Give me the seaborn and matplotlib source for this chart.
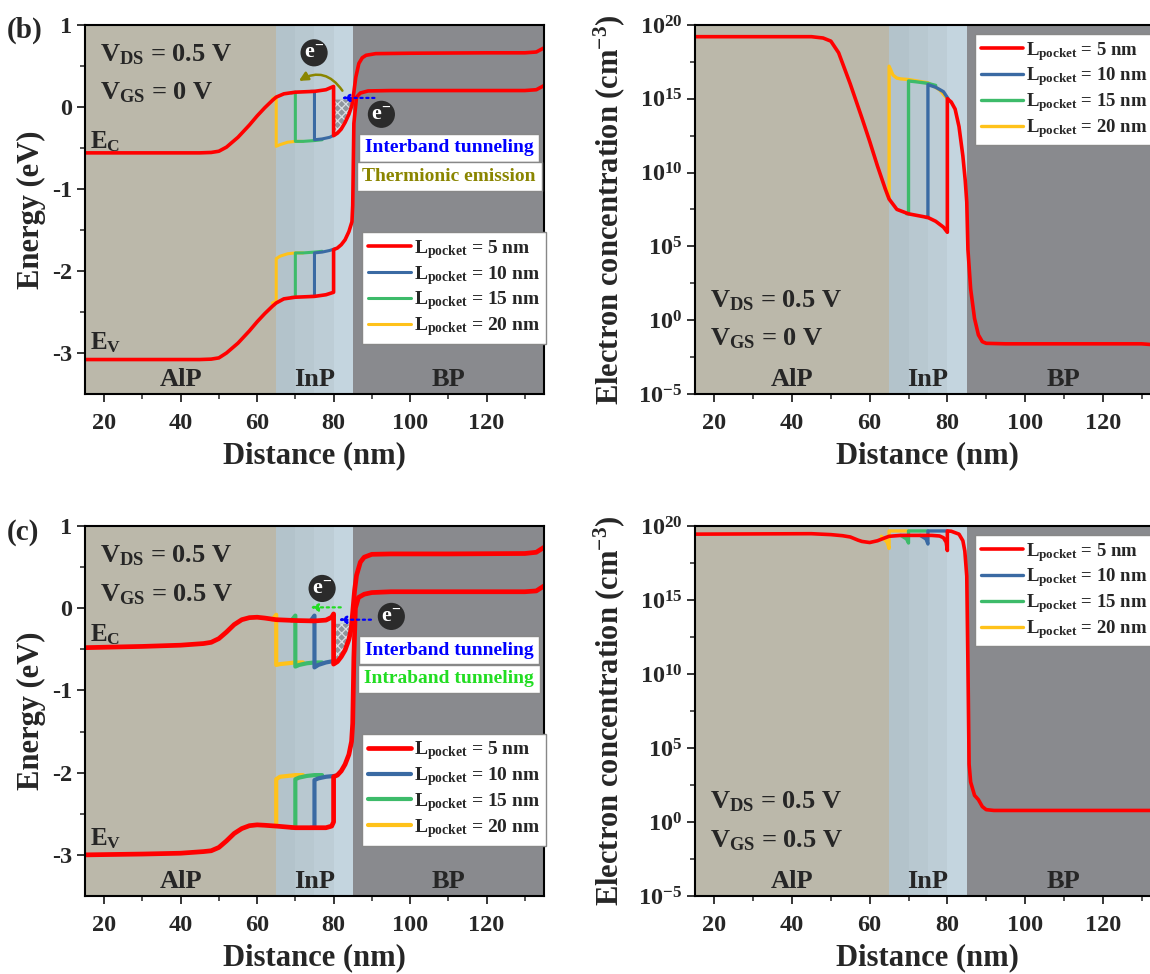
import matplotlib
matplotlib.use("Agg")
import matplotlib.pyplot as plt
import seaborn as sns

sns.set_style("ticks")
plt.rcParams["font.family"] = ["Liberation Serif", "DejaVu Serif"]
plt.rcParams["font.weight"] = "bold"
plt.rcParams["axes.labelweight"] = "bold"
plt.rcParams["mathtext.fontset"] = "custom"
plt.rcParams["mathtext.rm"] = "Liberation Serif:bold"
plt.rcParams["mathtext.it"] = "Liberation Serif:bold:italic"
plt.rcParams["mathtext.bf"] = "Liberation Serif:bold"
plt.rcParams["mathtext.default"] = "rm"
plt.rcParams["axes.unicode_minus"] = False
plt.rcParams["hatch.linewidth"] = 0.9

# ---- data -------------------------------------------------------------
pockets = ["5", "10", "15", "20"]
colors = {"5": "#ff0000", "10": "#3a6aa3", "15": "#3dbb6a", "20": "#ffc21a"}

region_edges = [15, 65, 70, 75, 80, 85, 135]
region_colors = ["#bbb8aa", "#b3c3cb", "#b8c8d0", "#bdcdd6", "#c4d5df", "#898a8e"]
region_names = ["AlP", "InP", "BP"]
region_centers = [40, 75, 110]

# (b) band diagram, VGS = 0 V
ec_b_x = [15, 30, 45, 48, 50, 52, 55, 58, 60, 62, 64, 65, 67, 70, 75, 78, 80, 80, 81, 82, 83, 84,
          84.8, 85.3, 85.8, 86.6, 87.5, 88.5, 91, 100, 120, 130, 133, 135]
ec_b_y = [-0.56, -0.56, -0.56, -0.555, -0.54, -0.49, -0.37, -0.22, -0.11, -0.01, 0.08, 0.12, 0.16,
          0.18, 0.19, 0.21, 0.25, -0.35, -0.32, -0.27, -0.19, -0.09, 0.02, 0.18, 0.36, 0.53, 0.60,
          0.63, 0.65, 0.655, 0.66, 0.66, 0.67, 0.72]
ev_b_x = [15, 30, 45, 48, 50, 52, 55, 58, 60, 62, 64, 65, 67, 70, 75, 78, 80, 80, 81, 82, 83, 84,
          84.8, 85, 85.3, 86, 87, 89, 95, 110, 130, 133, 135]
ev_b_y = [-3.08, -3.08, -3.08, -3.075, -3.06, -3.0, -2.88, -2.73, -2.62, -2.52, -2.43, -2.39, -2.34,
          -2.32, -2.31, -2.29, -2.26, -1.74, -1.72, -1.68, -1.62, -1.52, -1.40, -1.2, -0.2, 0.12,
          0.17, 0.195, 0.2, 0.2, 0.2, 0.21, 0.26]
ec_b_pocket_x = {"10": [74, 75, 75, 77, 79, 80.3],
                 "15": [69, 70, 70, 72, 75, 77],
                 "20": [64, 65, 65, 66, 68, 70, 72]}
ec_b_pocket_y = {"10": [0.19, 0.19, -0.40, -0.39, -0.37, -0.34],
                 "15": [0.17, 0.18, -0.42, -0.42, -0.41, -0.40],
                 "20": [0.10, 0.12, -0.48, -0.46, -0.43, -0.42, -0.42]}
ev_b_pocket_x = {"10": [74, 75, 75, 77, 79, 80.3],
                 "15": [69, 70, 70, 72, 75, 77],
                 "20": [64, 65, 65, 66, 68, 70, 72]}
ev_b_pocket_y = {"10": [-2.31, -2.31, -1.78, -1.77, -1.75, -1.73],
                 "15": [-2.32, -2.32, -1.78, -1.78, -1.77, -1.76],
                 "20": [-2.39, -2.37, -1.85, -1.82, -1.79, -1.78, -1.78]}

# (c) band diagram, VGS = 0.5 V
ec_c_x = [15, 30, 40, 46, 48, 50, 52, 54, 56, 58, 60, 62, 65, 70, 75, 78, 79.5, 80, 80, 81, 82, 83,
          84, 84.6, 85, 85.5, 86, 87, 88, 90, 95, 110, 130, 133, 135]
ec_c_y = [-0.48, -0.465, -0.45, -0.43, -0.415, -0.37, -0.29, -0.2, -0.14, -0.115, -0.11, -0.12,
          -0.14, -0.15, -0.155, -0.145, -0.11, -0.07, -0.68, -0.65, -0.59, -0.51, -0.38, -0.25,
          -0.05, 0.22, 0.4, 0.56, 0.62, 0.655, 0.66, 0.66, 0.665, 0.68, 0.74]
ev_c_x = [15, 30, 40, 46, 48, 50, 52, 54, 56, 58, 60, 62, 65, 70, 75, 78, 79.5, 80, 80, 81, 82, 83,
          84, 84.7, 85, 85.3, 85.7, 86.5, 88, 90, 95, 110, 130, 133, 135]
ev_c_y = [-3.0, -2.99, -2.98, -2.96, -2.95, -2.91, -2.83, -2.74, -2.68, -2.645, -2.635, -2.64,
          -2.65, -2.67, -2.67, -2.67, -2.65, -2.6, -2.05, -2.03, -1.98, -1.9, -1.78, -1.62, -1.4,
          -0.6, 0.0, 0.13, 0.17, 0.19, 0.2, 0.2, 0.2, 0.21, 0.27]
ec_c_pocket_x = {"10": [74, 75, 75, 76, 78, 80.3],
                 "15": [69, 70, 70, 71, 73, 75, 77],
                 "20": [64, 65, 65, 66, 68, 70, 72]}
ec_c_pocket_y = {"10": [-0.155, -0.09, -0.72, -0.69, -0.66, -0.64],
                 "15": [-0.15, -0.09, -0.71, -0.69, -0.67, -0.66, -0.66],
                 "20": [-0.14, -0.08, -0.69, -0.68, -0.67, -0.66, -0.66]}
ev_c_pocket_x = {"10": [74, 75, 75, 76, 78, 80.3],
                 "15": [69, 70, 70, 71, 73, 75, 77],
                 "20": [64, 65, 65, 66, 68, 70, 72]}
ev_c_pocket_y = {"10": [-2.67, -2.67, -2.09, -2.07, -2.05, -2.04],
                 "15": [-2.67, -2.67, -2.08, -2.06, -2.04, -2.03, -2.03],
                 "20": [-2.65, -2.65, -2.08, -2.05, -2.04, -2.03, -2.03]}

# electron concentration (cm^-3), VGS = 0 V
n_b_x = [15, 30, 45, 48, 50, 52, 55, 58, 60, 62, 64, 65, 67, 70, 75, 77, 79, 80, 80, 81, 82, 83,
         84, 84.6, 85, 85.3, 86, 87, 88, 89, 90, 95, 110, 130, 135]
n_b_y = [1.6e19, 1.6e19, 1.6e19, 1.3e19, 8e18, 1.3e18, 1e16, 5e13, 1.3e12, 2.8e10, 8e8, 1.6e8,
         3.2e7, 1.6e7, 9e6, 5e6, 2e6, 9e5, 1e15, 6e14, 2e14, 1.3e13, 1.3e11, 3e9, 1e8, 6e4, 130,
         1.3, 0.1, 0.035, 0.027, 0.025, 0.025, 0.025, 0.02]
n_b_pocket_x = {"10": [74.5, 75, 75, 77, 79, 80.2],
                "15": [69.5, 70, 70, 72, 75, 77],
                "20": [64.5, 65, 65, 66, 67, 68, 70, 75, 78, 80]}
n_b_pocket_y = {"10": [9e6, 9e6, 9e15, 6e15, 3e15, 1e15],
                "15": [1.6e7, 1.6e7, 1.6e16, 1.4e16, 1.1e16, 8e15],
                "20": [3e8, 2e8, 1.6e17, 4e16, 2.5e16, 2.2e16, 2e16, 1.2e16, 4e15, 1e15]}

# electron concentration (cm^-3), VGS = 0.5 V
n_c_x = [15, 30, 45, 50, 53, 55, 57, 58, 60, 62, 64, 65, 68, 72, 76, 78, 79, 79.7, 80, 80, 81, 82,
         83, 84, 84.5, 85, 85.3, 85.6, 86, 87, 88, 89, 90, 92, 110, 135]
n_c_y = [2.8e19, 2.9e19, 3e19, 2.6e19, 2.2e19, 1.8e19, 1.1e19, 9e18, 7.6e18, 1e19, 1.6e19, 2e19,
         2.3e19, 2.3e19, 2.3e19, 2.1e19, 1.6e19, 8e18, 2.2e18, 4.6e19, 4.4e19, 3.5e19, 2.8e19,
         1e19, 2e18, 4e16, 4e10, 8e3, 500, 63, 32, 11, 6.8, 6, 6, 6]
n_c_pocket_x = {"10": [73, 74.5, 75, 75, 77, 80],
                "15": [68, 69.5, 70, 70, 72, 75],
                "20": [63, 64.5, 65, 65, 66, 68, 70]}
n_c_pocket_y = {"10": [2.3e19, 1.3e19, 6e18, 4.6e19, 4.6e19, 4.6e19],
                "15": [2.3e19, 1.3e19, 7e18, 4.6e19, 4.6e19, 4.6e19],
                "20": [2e19, 8e18, 3e18, 4.6e19, 4.6e19, 4.6e19, 4.6e19]}

energy_ticks = [-3, -2, -1, 0, 1]
energy_minor = [-2.5, -1.5, -0.5, 0.5]
dist_ticks = [20, 40, 60, 80, 100, 120]
dist_minor = [30, 50, 70, 90, 110, 130]
conc_ticks = [1e-5, 1, 1e5, 1e10, 1e15, 1e20]
conc_labels = [r"$10^{-5}$", r"$10^{0}$", r"$10^{5}$", r"$10^{10}$", r"$10^{15}$", r"$10^{20}$"]
conc_minor = [3.16e-3, 316, 3.16e7, 3.16e12, 3.16e17]
tunnel_level = {"b": 0.09, "c": -0.19}


# ---- helpers ----------------------------------------------------------
def draw(ax, x, y, color, lw):
    sns.lineplot(x=x, y=y, ax=ax, color=color, lw=lw, sort=False, estimator=None, legend=False)
    return ax.lines[-1]


def base_axes(ax, log=False):
    for i in range(len(region_colors)):
        ax.axvspan(region_edges[i], region_edges[i + 1], color=region_colors[i], lw=0, zorder=0)
    ax.set_xlim(15, 135)
    ax.set_xticks(dist_ticks)
    ax.set_xticks(dist_minor, minor=True)
    if log:
        ax.set_yscale("log")
        ax.set_ylim(1e-5, 1e20)
        ax.set_yticks(conc_ticks)
        ax.set_yticklabels(conc_labels)
        ax.set_yticks(conc_minor, minor=True)
        ax.set_yticklabels([], minor=True)
        ax.set_ylabel(r"Electron concentration (cm$^{-3}$)", fontsize=22)
        ax.yaxis.set_label_coords(-0.145, 0.5)
        ytxt = 9e-5
    else:
        ax.set_ylim(-3.5, 1)
        ax.set_yticks(energy_ticks)
        ax.set_yticks(energy_minor, minor=True)
        ax.set_ylabel("Energy (eV)", fontsize=22)
        ax.yaxis.set_label_coords(-0.085, 0.5)
        ytxt = -3.32
    ax.set_xlabel("Distance (nm)", fontsize=22, labelpad=5)
    ax.tick_params(axis="both", which="major", direction="out", length=6, width=1.3,
                   labelsize=17.5, pad=3)
    ax.tick_params(axis="x", which="major", pad=8)
    ax.tick_params(axis="both", which="minor", direction="out", length=3.5, width=1.1)
    for s in ax.spines.values():
        s.set_linewidth(1.5)
        s.set_color("black")
    for name, xc in zip(region_names, region_centers):
        ax.text(xc, ytxt, name, ha="center", va="center", fontsize=19, zorder=5)


def pocket_legend(ax, handles, anchor, size):
    labels = [r"L$_{pocket}$ = %s nm" % p for p in pockets]
    leg = ax.legend(handles=handles, labels=labels, loc="upper left", bbox_to_anchor=anchor,
                    fontsize=size, frameon=True, fancybox=False, framealpha=1,
                    edgecolor="#888888", handlelength=2.25, handletextpad=0.12,
                    labelspacing=0.15, borderpad=0.3, borderaxespad=0)
    leg.get_frame().set_linewidth(1.0)
    leg.set_zorder(10)


def electron(ax, x, y):
    ax.text(x, y, r"e$^{-}$", color="white", ha="center", va="center", fontsize=16, zorder=12,
            bbox=dict(boxstyle="circle,pad=0.16", fc="#2b2b2b", ec="none"))


def tunnel_box(ax, x, y, label, color):
    ax.text(x, y, label, color=color, ha="center", va="center", fontsize=14, zorder=11,
            bbox=dict(boxstyle="square,pad=0.3", fc="white", ec="#888888", lw=1))


def band_panel(ax, ec_x, ec_y, ev_x, ev_y, ec_px, ec_py, ev_px, ev_py, lw_red, lw_col, key):
    base_axes(ax)
    handles = {}
    for p in ["20", "15", "10"]:
        handles[p] = draw(ax, ec_px[p], ec_py[p], colors[p], lw_col)
        draw(ax, ev_px[p], ev_py[p], colors[p], lw_col)
    # hatched tunneling window between the pocket conduction band and the source level
    i0 = ec_x.index(80) + 1
    seg = [(x, y) for x, y in zip(ec_x[i0:], ec_y[i0:]) if x <= 85 and y <= tunnel_level[key]]
    ax.fill_between([s[0] for s in seg], [s[1] for s in seg], tunnel_level[key],
                    facecolor="#8f969d", hatch="xxxx", edgecolor="#d9dee2", lw=0, zorder=2)
    handles["5"] = draw(ax, ec_x, ec_y, colors["5"], lw_red)
    draw(ax, ev_x, ev_y, colors["5"], lw_red)
    pocket_legend(ax, [handles[p] for p in pockets], (0.603, 0.439), 14)


def conc_panel(ax, n_x, n_y, n_px, n_py):
    base_axes(ax, log=True)
    handles = {}
    for p in ["20", "15", "10"]:
        handles[p] = draw(ax, n_px[p], n_py[p], colors[p], 2.4)
    handles["5"] = draw(ax, n_x, n_y, colors["5"], 2.6)
    pocket_legend(ax, [handles[p] for p in pockets], (0.602, 0.975), 13.5)


# ---- figure -----------------------------------------------------------
fig = plt.figure(figsize=(11.5, 9.74), dpi=100)
ax_b = fig.add_axes([0.0739, 0.5955, 0.3991, 0.3789])
ax_bn = fig.add_axes([0.6043, 0.5955, 0.4052, 0.3789])
ax_c = fig.add_axes([0.0739, 0.0801, 0.3991, 0.3799])
ax_cn = fig.add_axes([0.6043, 0.0801, 0.4052, 0.3799])

# panel (b)
band_panel(ax_b, ec_b_x, ec_b_y, ev_b_x, ev_b_y, ec_b_pocket_x, ec_b_pocket_y,
           ev_b_pocket_x, ev_b_pocket_y, 2.6, 2.2, "b")
ax_b.text(18.8, 0.64, r"V$_{DS}$ = 0.5 V", fontsize=19, va="center")
ax_b.text(18.8, 0.17, r"V$_{GS}$ = 0 V", fontsize=19, va="center")
ax_b.text(16.3, -0.42, r"E$_{C}$", fontsize=18, va="center")
ax_b.text(16.3, -2.88, r"E$_{V}$", fontsize=18, va="center")
tunnel_box(ax_b, 110.2, -0.50, "Interband tunneling", "#0000ff")
tunnel_box(ax_b, 110.2, -0.85, "Thermionic emission", "#8a8500")
electron(ax_b, 74.9, 0.66)
electron(ax_b, 92.5, -0.09)
ax_b.annotate("", xy=(81.4, 0.11), xytext=(91.4, 0.11), zorder=11,
              arrowprops=dict(arrowstyle="-|>", color="#0000ff", ls=":", lw=1.6,
                              mutation_scale=11))
ax_b.annotate("", xy=(70.3, 0.30), xytext=(82.7, 0.17), zorder=11,
              arrowprops=dict(arrowstyle="-|>", color="#8a8500", lw=1.8, mutation_scale=13,
                              connectionstyle="arc3,rad=0.5"))

# panel (c)
band_panel(ax_c, ec_c_x, ec_c_y, ev_c_x, ev_c_y, ec_c_pocket_x, ec_c_pocket_y,
           ev_c_pocket_x, ev_c_pocket_y, 3.4, 3.0, "c")
ax_c.text(18.8, 0.64, r"V$_{DS}$ = 0.5 V", fontsize=19, va="center")
ax_c.text(18.8, 0.17, r"V$_{GS}$ = 0.5 V", fontsize=19, va="center")
ax_c.text(16.3, -0.32, r"E$_{C}$", fontsize=18, va="center")
ax_c.text(16.3, -2.80, r"E$_{V}$", fontsize=18, va="center")
tunnel_box(ax_c, 110.2, -0.51, "Interband tunneling", "#0000ff")
tunnel_box(ax_c, 110.2, -0.86, "Intraband tunneling", "#22dd22")
electron(ax_c, 77.0, 0.24)
electron(ax_c, 95.1, -0.10)
ax_c.annotate("", xy=(80.6, -0.14), xytext=(90.5, -0.14), zorder=11,
              arrowprops=dict(arrowstyle="-|>", color="#0000ff", ls=":", lw=1.6,
                              mutation_scale=11))
ax_c.annotate("", xy=(73.2, 0.01), xytext=(82.6, 0.01), zorder=11,
              arrowprops=dict(arrowstyle="-|>", color="#22dd22", ls=":", lw=1.6,
                              mutation_scale=11))

# concentration panels
conc_panel(ax_bn, n_b_x, n_b_y, n_b_pocket_x, n_b_pocket_y)
ax_bn.text(18.9, 22, r"V$_{DS}$ = 0.5 V", fontsize=19, va="center")
ax_bn.text(18.9, 0.058, r"V$_{GS}$ = 0 V", fontsize=19, va="center")
conc_panel(ax_cn, n_c_x, n_c_y, n_c_pocket_x, n_c_pocket_y)
ax_cn.text(18.9, 22, r"V$_{DS}$ = 0.5 V", fontsize=19, va="center")
ax_cn.text(18.9, 0.058, r"V$_{GS}$ = 0.5 V", fontsize=19, va="center")

fig.text(0.006, 1 - 30 / 974, "(b)", fontsize=21, va="center")
fig.text(0.006, 1 - 532 / 974, "(c)", fontsize=21, va="center")

fig.savefig("out.png", dpi=100)
